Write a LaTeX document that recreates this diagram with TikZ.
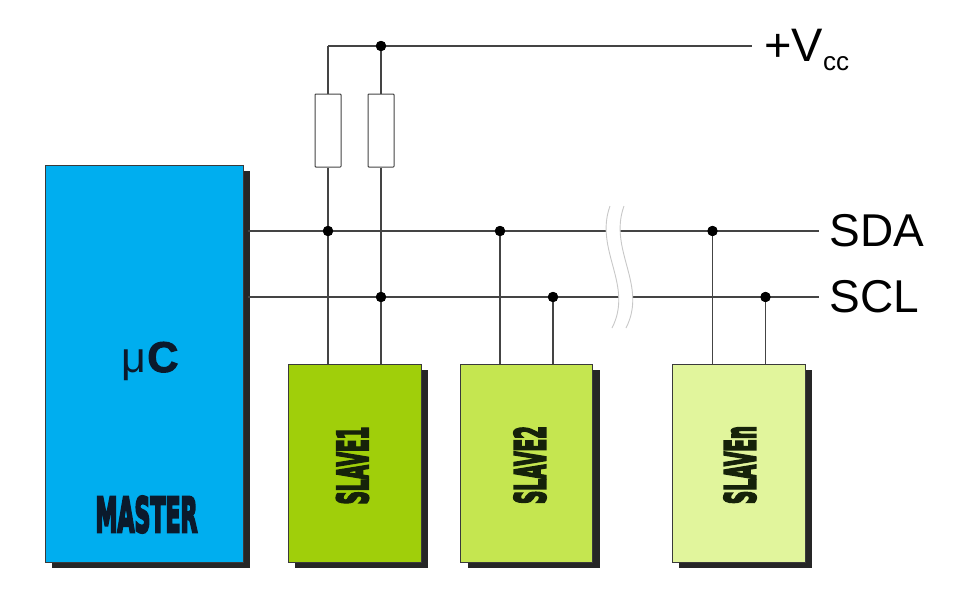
\documentclass[tikz,border=0pt]{standalone}
\usepackage{fontspec}
\setmainfont{Liberation Sans}
\newfontfamily\heavyf[FakeBold=6]{DejaVu Sans Bold}
\newfontfamily\boldsansf[FakeBold=2.5]{Liberation Sans Bold}
\usetikzlibrary{shadows}
\definecolor{masterblue}{HTML}{00AEEF}
\definecolor{slaveA}{HTML}{A0CF0A}
\definecolor{slaveB}{HTML}{C5E650}
\definecolor{slaveC}{HTML}{E1F59C}
\definecolor{boxline}{HTML}{3A3A3A}
\definecolor{wire}{HTML}{444444}
\definecolor{breakgray}{HTML}{C8C8C8}
\definecolor{navytext}{HTML}{0B1A2C}
\definecolor{slavetext}{HTML}{16220A}
\tikzset{
  chipbox/.style={draw=boxline, line width=0.9pt, inner sep=0pt,
    drop shadow={shadow xshift=7pt, shadow yshift=-6pt, opacity=0.85, fill=black}},
  resbox/.style={draw=wire, fill=white, line width=1pt, inner sep=0pt,
    minimum width=26pt, minimum height=73pt, rounded corners=0.8pt},
  wireline/.style={draw=wire, line width=1.5pt},
  junction/.style={circle, fill=black, inner sep=0pt, minimum size=10pt},
  buslabel/.style={anchor=base west, inner sep=0pt, font=\fontsize{46}{46}\selectfont, text=black},
  slavelabel/.style={rotate=90, inner sep=0pt, text=slavetext,
    font=\heavyf\fontsize{42}{42}\selectfont},
  breakline/.style={draw=breakgray, line width=0.9pt}
}
\begin{document}
\begin{tikzpicture}[x=1pt,y=-1pt]
\useasboundingbox (0,0) rectangle (970,590);
% chips
\node[chipbox, fill=masterblue, minimum width=198pt, minimum height=397pt] (master) at (144,363.5) {};
\node[chipbox, fill=slaveA, minimum width=133pt, minimum height=198pt] (slave1) at (354.5,463) {};
\node[chipbox, fill=slaveB, minimum width=132pt, minimum height=198pt] (slave2) at (526.7,463) {};
\node[chipbox, fill=slaveC, minimum width=133pt, minimum height=198pt] (slaven) at (738.6,463) {};
% chip labels
\node[anchor=base, inner sep=0pt, text=navytext, font=\fontsize{43}{43}\selectfont] (muc) at (150,372) {μ\kern1pt{\boldsansf C}};
\node[anchor=base, inner sep=0pt, text=navytext, font=\heavyf\fontsize{48}{48}\selectfont] (mlabel) at (146.5,532) {\scalebox{0.46}[1]{MASTER}};
\node[slavelabel] (s1label) at (352.5,465.5) {\scalebox{0.44}[1]{SLAVE1}};
\node[slavelabel] (s2label) at (530,465) {\scalebox{0.44}[1]{SLAVE2}};
\node[slavelabel] (snlabel) at (740,465) {\scalebox{0.44}[1]{SLAVEn}};
% coordinates
\coordinate (vccL) at (328,46);
\coordinate (vccR) at (752,46);
\coordinate (sdaL) at (248,231);
\coordinate (sdaR) at (819,231);
\coordinate (sclL) at (248,297);
\coordinate (sclR) at (819,297);
% resistors
\node[resbox] (r1) at (328,130.5) {};
\node[resbox] (r2) at (381,130.5) {};
% junction dots
\node[junction] (vdot) at (381,46) {};
\node[junction] (d1) at (328,231) {};
\node[junction] (d2) at (381,297) {};
\node[junction] (d3) at (500,231) {};
\node[junction] (d4) at (553,297) {};
\node[junction] (d5) at (712.5,231) {};
\node[junction] (d6) at (765.5,297) {};
% wires
\draw[wireline] (vccL) -- (vccR);
\draw[wireline] (vccL) -- (r1.north);
\draw[wireline] (vdot.center) -- (r2.north);
\draw[wireline] (r1.south) -- (r1.south |- slave1.north);
\draw[wireline] (r2.south) -- (r2.south |- slave1.north);
\draw[wireline] (sdaL) -- (sdaR);
\draw[wireline] (sclL) -- (sclR);
\draw[wireline] (d3.center) -- (d3.center |- slave2.north);
\draw[wireline] (d4.center) -- (d4.center |- slave2.north);
\draw[wireline] (d5.center) -- (d5.center |- slaven.north);
\draw[wireline] (d6.center) -- (d6.center |- slaven.north);
% redraw dots on top
\foreach \d in {vdot,d1,d2,d3,d4,d5,d6} \fill (\d) circle (5.2pt);
% break mark
\coordinate (bkTL) at (610,206);
\coordinate (bkBL) at (612,328);
\coordinate (bkTR) at (624,206);
\coordinate (bkBR) at (626,328);
\fill[white] (bkTL) .. controls (594,250) and (634,285) .. (bkBL)
  -- (bkBR) .. controls (648,285) and (608,250) .. (bkTR) -- cycle;
\draw[breakline] (bkTL) .. controls (594,250) and (634,285) .. (bkBL);
\draw[breakline] (bkTR) .. controls (608,250) and (648,285) .. (bkBR);
% labels
\node[anchor=base west, inner sep=0pt, font=\fontsize{47}{47}\selectfont] (vcc) at (764,61)
  {+V\raisebox{-9pt}{\fontsize{26}{26}\selectfont cc}};
\node[buslabel] (sda) at (829.5,246) {SDA};
\node[buslabel] (scl) at (829.5,312.5) {SCL};
\end{tikzpicture}
\end{document}
